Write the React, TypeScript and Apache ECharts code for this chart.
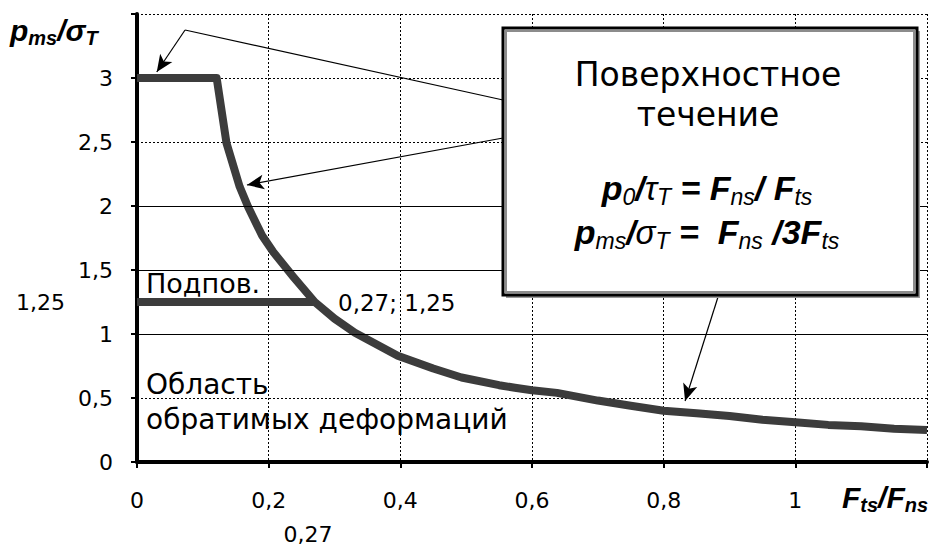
import React, { useEffect, useRef } from "react";
import * as echarts from "echarts";

// Surface-flow boundary: plateau at 3, then the hyperbolic branch
const flowX = [0, 0.121, 0.136, 0.156, 0.169, 0.19, 0.207, 0.237, 0.27, 0.3, 0.331, 0.36, 0.396, 0.45, 0.493, 0.55, 0.574, 0.6, 0.638, 0.7, 0.75, 0.8, 0.85, 0.9, 0.95, 1.0, 1.05, 1.1, 1.15, 1.2];
const flowY = [3, 3, 2.49, 2.15, 1.99, 1.77, 1.64, 1.45, 1.25, 1.12, 1.01, 0.93, 0.83, 0.73, 0.66, 0.6, 0.58, 0.56, 0.54, 0.48, 0.44, 0.4, 0.38, 0.36, 0.33, 0.31, 0.29, 0.28, 0.26, 0.25];

// Subsurface level ("Подпов.")
const subX = [0, 0.27];
const subY = [1.25, 1.25];

// Horizontal grid levels drawn as solid lines
const solidLevels = [1, 1.5, 2];

// Pointer lines from the callout box (data coordinates)
const pointerFrom = [[0.073, 3.375], [0.073, 3.375], [0.556, 2.531], [0.883, 1.297]];
const pointerTo = [[0.556, 2.828], [0.03, 3.047], [0.167, 2.164], [0.8325, 0.4766]];
const pointerHead = [false, true, true, true];

const fmt = (v: number) => String(Math.round(v * 100) / 100).replace(".", ",");

const LABEL_FONT = "DejaVu Sans";
const MATH_FONT = "Liberation Sans";

export default function App() {
  const ref = useRef<HTMLDivElement>(null);

  useEffect(() => {
    if (!ref.current) return;
    const chart = echarts.init(ref.current, undefined, { renderer: "svg" });

    const pointerLines = pointerFrom.map((f, i) => [
      { coord: f, symbol: "none" },
      { coord: pointerTo[i], symbol: pointerHead[i] ? "arrow" : "none", symbolSize: [11, 17] },
    ]);

    const mathRich = {
      b: { fontFamily: MATH_FONT, fontSize: 34, fontWeight: "bold", fontStyle: "italic", lineHeight: 40, fill: "#000", color: "#000" },
      g: { fontFamily: MATH_FONT, fontSize: 33, fontStyle: "italic", lineHeight: 40, fill: "#000", color: "#000" },
      s: { fontFamily: MATH_FONT, fontSize: 23, fontStyle: "italic", lineHeight: 16, verticalAlign: "bottom", fill: "#000", color: "#000" },
    };

    const titleRich = {
      b: { fontFamily: MATH_FONT, fontSize: 30, fontWeight: "bold", fontStyle: "italic", lineHeight: 36, fill: "#000", color: "#000" },
      s: { fontFamily: MATH_FONT, fontSize: 20, fontWeight: "bold", fontStyle: "italic", lineHeight: 14, verticalAlign: "bottom", fill: "#000", color: "#000" },
    };

    chart.setOption({
      animation: false,
      backgroundColor: "#fff",
      grid: { left: 137, right: 14, top: 14, bottom: 85 },
      xAxis: {
        type: "value",
        min: 0,
        max: 1.2,
        interval: 0.2,
        axisLine: { lineStyle: { color: "#000", width: 4 } },
        axisTick: { show: true, length: 6, lineStyle: { color: "#000", width: 2 } },
        axisLabel: {
          margin: 27,
          fontFamily: LABEL_FONT,
          fontSize: 22,
          color: "#000",
          formatter: (v: number) => (v > 1.1 ? "" : fmt(v)),
        },
        splitLine: { show: true, lineStyle: { color: "#000", width: 1, type: [2, 2] } },
      },
      yAxis: {
        type: "value",
        min: 0,
        max: 3.5,
        interval: 0.5,
        axisLine: { show: true, lineStyle: { color: "#000", width: 4 } },
        axisTick: { show: true, length: 6, lineStyle: { color: "#000", width: 2 } },
        axisLabel: {
          margin: 24,
          fontFamily: LABEL_FONT,
          fontSize: 22,
          color: "#000",
          formatter: (v: number) => (v > 3.2 ? "" : fmt(v)),
        },
        splitLine: { show: true, lineStyle: { color: "#000", width: 1, type: [2, 2] } },
      },
      series: [
        {
          name: "annotations",
          type: "line",
          data: [],
          silent: true,
          z: 1,
          markLine: {
            silent: true,
            symbol: "none",
            label: { show: false },
            lineStyle: { color: "#000", width: 1, type: "solid" },
            data: solidLevels.map((v) => ({ yAxis: v })),
          },
        },
        {
          name: "pointers",
          type: "line",
          data: [],
          silent: true,
          z: 5,
          markLine: {
            silent: true,
            label: { show: false },
            lineStyle: { color: "#000", width: 1.2, type: "solid" },
            itemStyle: { color: "#000" },
            data: pointerLines,
          },
        },
        {
          name: "Подпов.",
          type: "line",
          data: subX.map((x, i) => [x, subY[i]]),
          showSymbol: false,
          symbol: "none",
          lineStyle: { color: "#3c3c3c", width: 8 },
          z: 3,
        },
        {
          name: "Поверхностное течение",
          type: "line",
          data: flowX.map((x, i) => [x, flowY[i]]),
          showSymbol: false,
          symbol: "none",
          lineStyle: { color: "#3c3c3c", width: 8, join: "round", cap: "butt" },
          z: 3,
        },
      ],
      graphic: [
        // callout box
        { type: "rect", z: 100, shape: { x: 506, y: 31, width: 414, height: 267 }, style: { fill: "#9a9a9a" } },
        { type: "rect", z: 101, shape: { x: 503, y: 28, width: 414, height: 267 }, style: { fill: "#fff", stroke: "#000", lineWidth: 3 } },
        { type: "rect", z: 102, shape: { x: 506, y: 31, width: 408, height: 261 }, style: { fill: "none", stroke: "#8c8c8c", lineWidth: 2 } },
        { type: "text", z: 103, x: 708, y: 74, style: { text: "Поверхностное", fontFamily: LABEL_FONT, fontSize: 33, fill: "#000", align: "center", verticalAlign: "middle" } },
        { type: "text", z: 103, x: 708, y: 114, style: { text: "течение", fontFamily: LABEL_FONT, fontSize: 33, fill: "#000", align: "center", verticalAlign: "middle" } },
        {
          type: "text", z: 103, x: 707, y: 188,
          style: { text: "{b|p}{s|0}{b|/}{g|τ}{s|T}{b| = F}{s|ns}{b|/ F}{s|ts}", rich: mathRich, align: "center", verticalAlign: "middle" },
        },
        {
          type: "text", z: 103, x: 707, y: 232,
          style: { text: "{b|p}{s|ms}{b|/}{g|σ}{s|T}{b| =  F}{s|ns}{b| /3F}{s|ts}", rich: mathRich, align: "center", verticalAlign: "middle" },
        },
        // axis titles
        {
          type: "text", z: 103, x: 10, y: 30,
          style: { text: "{b|p}{s|ms}{b|/σ}{s|T}", rich: titleRich, align: "left", verticalAlign: "middle" },
        },
        {
          type: "text", z: 103, x: 842, y: 497,
          style: { text: "{b|F}{s|ts}{b|/F}{s|ns}", rich: titleRich, align: "left", verticalAlign: "middle" },
        },
        // region labels
        { type: "text", z: 103, x: 146, y: 283, style: { text: "Подпов.", fontFamily: LABEL_FONT, fontSize: 27, fill: "#000", align: "left", verticalAlign: "middle" } },
        { type: "text", z: 103, x: 338, y: 303, style: { text: "0,27; 1,25", fontFamily: LABEL_FONT, fontSize: 23, fill: "#000", align: "left", verticalAlign: "middle" } },
        { type: "text", z: 103, x: 146, y: 384, style: { text: "Область", fontFamily: LABEL_FONT, fontSize: 28, fill: "#000", align: "left", verticalAlign: "middle" } },
        { type: "text", z: 103, x: 146, y: 419, style: { text: "обратимых деформаций", fontFamily: LABEL_FONT, fontSize: 28, fill: "#000", align: "left", verticalAlign: "middle" } },
        { type: "text", z: 103, x: 65, y: 302, style: { text: "1,25", fontFamily: LABEL_FONT, fontSize: 22, fill: "#000", align: "right", verticalAlign: "middle" } },
        { type: "text", z: 103, x: 308, y: 534, style: { text: "0,27", fontFamily: LABEL_FONT, fontSize: 22, fill: "#000", align: "center", verticalAlign: "middle" } },
      ],
    });

    return () => chart.dispose();
  }, []);

  return <div ref={ref} style={{ width: 941, height: 547, position: "absolute", left: 0, top: 0 }} />;
}
